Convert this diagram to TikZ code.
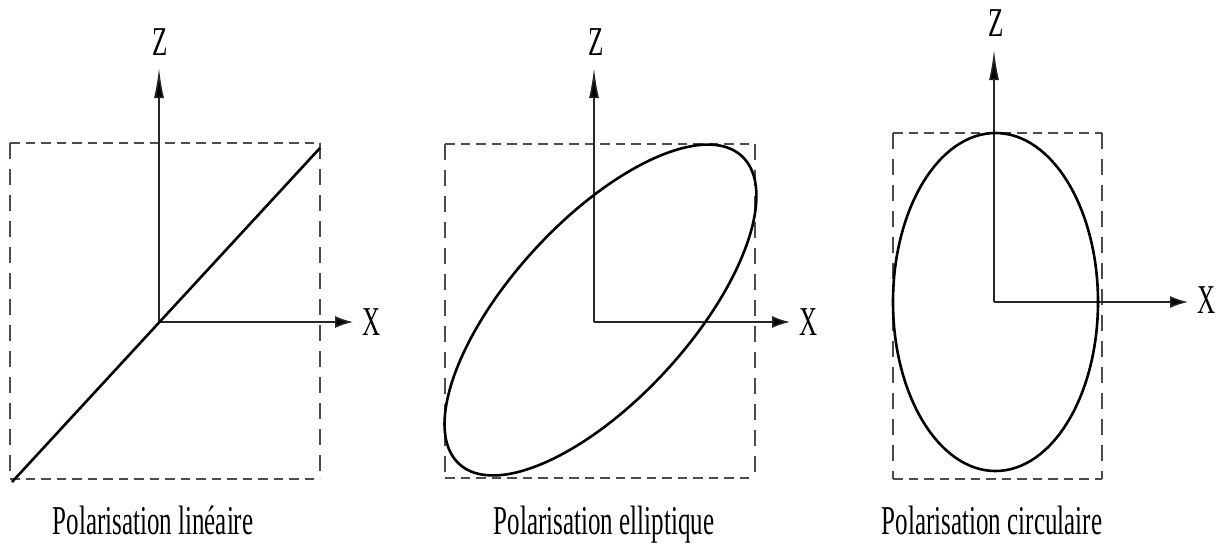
\documentclass[tikz,border=0pt]{standalone}
\usepackage{fontspec}
\setmainfont{Liberation Serif}
\usetikzlibrary{arrows.meta}
\begin{document}
\begin{tikzpicture}[x=1pt,y=-1pt,
  axis/.style={draw=black!85, line width=1.5pt},
  zarrow/.style={axis, -{Latex[length=30pt,width=10pt,fill=black]}},
  xarrow/.style={axis, -{Latex[length=18pt,width=12pt,fill=black]}},
  hdash/.style={draw=black!70, line width=1.7pt, dash pattern=on 9.5pt off 6pt},
  vdash/.style={draw=black!70, line width=1.4pt, dash pattern=on 16pt off 10pt},
  curve/.style={draw=black, line width=2.6pt},
  axlabel/.style={font=\fontsize{41}{41}\selectfont, inner sep=0pt},
  caption/.style={font=\fontsize{41}{41}\selectfont, inner sep=0pt, anchor=base}]
\useasboundingbox (0,0) rectangle (1219,547);

% ---------- Panel 1 : linear ----------
\coordinate (p1tl) at (10,143);
\coordinate (p1tr) at (320,143);
\coordinate (p1br) at (320,479);
\coordinate (p1bl) at (10,479);
\draw[hdash] (p1tl) -- (p1tr);
\draw[hdash] (p1bl) -- (p1br);
\draw[vdash] (p1tl) -- (p1bl);
\draw[vdash] (p1tr) -- (p1br);
\coordinate (o1) at (159,322);
\coordinate (z1) at (159,68);
\coordinate (x1) at (353,322);
\draw[zarrow] (o1) -- (z1);
\draw[xarrow] (o1) -- (x1);
\node[axlabel] (zl1) at (160,42) {\scalebox{0.61}[1]{Z}};
\node[axlabel] (xl1) at (372,322) {\scalebox{0.61}[1]{X}};
\coordinate (l1a) at (12,482);
\coordinate (l1b) at (320,148);
\draw[curve] (l1a) -- (l1b);
\node[caption] (c1) at (153,534) {\scalebox{0.61}[1]{Polarisation linéaire}};

% ---------- Panel 2 : elliptical ----------
\coordinate (p2tl) at (445,144);
\coordinate (p2tr) at (755,144);
\coordinate (p2br) at (755,478);
\coordinate (p2bl) at (445,478);
\draw[hdash] (p2tl) -- (p2tr);
\draw[hdash] (p2bl) -- (p2br);
\draw[vdash] (p2tl) -- (p2bl);
\draw[vdash] (p2tr) -- (p2br);
\coordinate (o2) at (594,322);
\coordinate (z2) at (594,68);
\coordinate (x2) at (790,322);
\draw[zarrow] (o2) -- (z2);
\draw[xarrow] (o2) -- (x2);
\node[axlabel] (zl2) at (596,42) {\scalebox{0.61}[1]{Z}};
\node[axlabel] (xl2) at (809,322) {\scalebox{0.61}[1]{X}};
\coordinate (e2) at (600.5,310);
\draw[curve, rotate around={47.45:(e2)}] (e2) ellipse [x radius=209, y radius=89.4];
\node[caption] (c2) at (604,534) {\scalebox{0.61}[1]{Polarisation elliptique}};

% ---------- Panel 3 : circular ----------
\coordinate (p3tl) at (893,133);
\coordinate (p3tr) at (1102,133);
\coordinate (p3br) at (1102,479);
\coordinate (p3bl) at (893,479);
\draw[hdash] (p3tl) -- (p3tr);
\draw[hdash] (p3bl) -- (p3br);
\draw[vdash] (p3tl) -- (p3bl);
\draw[vdash] (p3tr) -- (p3br);
\coordinate (o3) at (994,302);
\coordinate (z3) at (994,50);
\coordinate (x3) at (1188,302);
\draw[zarrow] (o3) -- (z3);
\draw[xarrow] (o3) -- (x3);
\node[axlabel] (zl3) at (996,23) {\scalebox{0.61}[1]{Z}};
\node[axlabel] (xl3) at (1207,300) {\scalebox{0.61}[1]{X}};
\coordinate (e3) at (995.5,302);
\draw[curve] (e3) ellipse [x radius=102.5, y radius=169];
\node[caption] (c3) at (992,534) {\scalebox{0.61}[1]{Polarisation circulaire}};
\end{tikzpicture}
\end{document}
